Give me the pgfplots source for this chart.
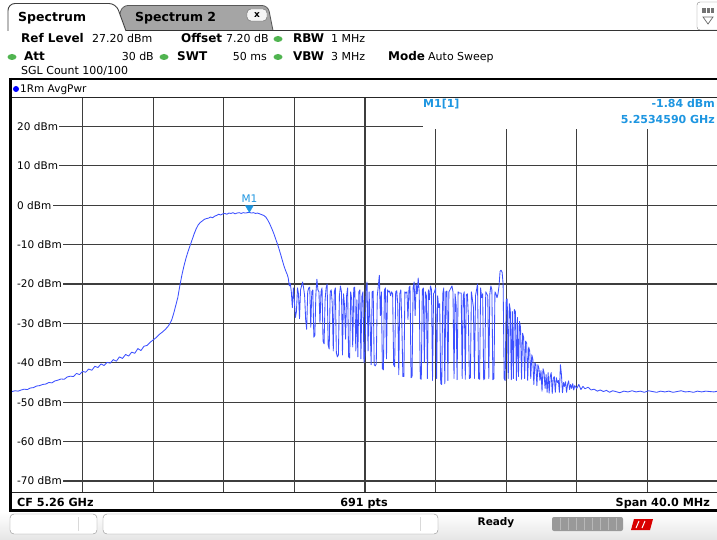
\documentclass[border=0pt]{standalone}
\usepackage{pgfplots}
\pgfplotsset{compat=1.18}
\usepackage{fontspec}
\setmainfont{DejaVu Sans}
\definecolor{trace}{RGB}{60,80,255}
\definecolor{mk}{RGB}{30,150,225}
\definecolor{gridc}{RGB}{62,62,62}
\definecolor{dotg}{RGB}{80,180,80}
\definecolor{tabg}{RGB}{165,165,165}
\tikzset{
 hb/.style={anchor=base west, inner sep=0pt, font=\fontsize{12}{14}\selectfont\bfseries},
 hr/.style={anchor=base west, inner sep=0pt, font=\fontsize{11}{14}\selectfont},
 fb/.style={anchor=base west, inner sep=0pt, font=\fontsize{11.2}{14}\selectfont\bfseries},
 ylab/.style={anchor=west, fill=white, inner xsep=0pt, inner ysep=1.5pt, font=\fontsize{10.5}{12}\selectfont},
}
\begin{document}
\begin{tikzpicture}
\useasboundingbox (0,0) rectangle (717pt,-540pt);
\fill[white] (0,0) rectangle (717pt,-540pt);
\begin{scope}[x=1pt,y=-1pt]
% tabs
\draw[fill=tabg, draw=black!65, line width=0.8pt, rounded corners=6pt] (116,30.5) -- (122,5.5) -- (268,5.5) -- (273,30.5);
\draw[fill=white!92!gray, draw=black!60, rounded corners=4pt] (247,9) rectangle (267,21);
\node[font=\fontsize{9}{10}\selectfont\bfseries, inner sep=0] at (257,15) {x};
\draw[fill=white, draw=black!75, line width=0.9pt, rounded corners=7pt] (8,31) -- (8,3.5) -- (116,3.5) -- (126,31);
\draw[black!80, line width=1.2pt] (125.5,30.5) -- (717,30.5);
\node[hb, font=\fontsize{12.5}{15}\selectfont\bfseries] at (18,22) {Spectrum};
\node[hb, font=\fontsize{12.5}{15}\selectfont\bfseries] at (135,22) {Spectrum 2};
% right icon
\draw[fill=white, draw=black!50, rounded corners=3pt] (697,2) rectangle (720,30);
\fill[black!55] (702,8) rectangle (714,13);
\draw[white, line width=0.6pt] (706,8) -- (706,13) (710,8) -- (710,13);
\draw[black!60, line width=0.7pt] (703,17) -- (713,17) -- (708,24) -- cycle;
% header rows
\node[hb] at (21,43) {Ref Level};
\node[hr] at (92,43) {27.20 dBm};
\node[hb] at (181,43) {Offset};
\node[hr] at (226,43) {7.20 dB};
\fill[dotg] (278,39) ellipse (4.5 and 3);
\node[hb] at (293,43) {RBW};
\node[hr] at (331,43) {1 MHz};
\fill[dotg] (12,57) ellipse (4.5 and 3);
\node[hb] at (24,61) {Att};
\node[hr, anchor=base east] at (154,61) {30 dB};
\fill[dotg] (164,57) ellipse (4.5 and 3);
\node[hb] at (177,61) {SWT};
\node[hr, anchor=base east] at (267,61) {50 ms};
\fill[dotg] (278,57) ellipse (4.5 and 3);
\node[hb] at (293,61) {VBW};
\node[hr] at (331,61) {3 MHz};
\node[hb] at (388,61) {Mode};
\node[hr] at (428,61) {Auto Sweep};
\node[hr] at (21,75) {SGL Count 100/100};
% separators
\draw[black, line width=2pt] (9.5,79) -- (717,79);
\fill[blue] (16,89) circle (3);
\node[hr, font=\fontsize{10.5}{12}\selectfont] at (20,93) {1Rm AvgPwr};
\draw[black!85, line width=0.8pt] (11,97.5) -- (717,97.5);
% footer
\draw[black!85, line width=0.8pt] (11,492.5) -- (717,492.5);
\node[fb] at (17,506) {CF 5.26 GHz};
\node[fb, anchor=base] at (364,506) {691 pts};
\node[fb, anchor=base east] at (710,506) {Span 40.0 MHz};
% status bar
\shade[top color=white, bottom color=black!10] (0,512) rectangle (717,540);
\draw[fill=white, draw=black!45, rounded corners=4pt] (10,514) rectangle (97,534);
\draw[black!15] (78,517) -- (78,531);
\draw[fill=white, draw=black!45, rounded corners=4pt] (103,514) rectangle (438,534);
\draw[black!15] (420,517) -- (420,531);
\node[font=\fontsize{10.5}{12}\selectfont\bfseries, inner sep=0] at (496,523) {Ready};
\fill[black!40, rounded corners=2pt] (552,517) rectangle (623,531);
\foreach \i in {560,568,...,616} \draw[black!28] (\i,518) -- (\i,530);
\fill[red!85!black] (634,519) -- (653,519) -- (650,530) -- (631,530) -- cycle;
\draw[white, line width=1pt] (639,521) -- (636,528) (645,521) -- (642,528);
\draw[black, line width=3pt] (9,510) -- (717,510);
\draw[black, line width=2.5pt] (10.5,78) -- (10.5,511.5);
\end{scope}

\begin{axis}[at={(12pt,-492pt)}, anchor=south west, width=706pt, height=394pt,
  scale only axis, xmin=0, xmax=690, ymin=-72.8, ymax=27.2,
  xtick={69,138,...,621}, ytick={-70,-60,...,20},
  xticklabels={}, yticklabels={}, major tick length=0pt,
  axis line style={draw=none}, grid=major,
  grid style={draw=gridc, line width=1.1pt}, clip=false]
\node[ylab] at (axis cs:0,20) {\hspace*{5pt}20 dBm\hspace*{1.5pt}};
\node[ylab] at (axis cs:0,10) {\hspace*{5pt}10 dBm\hspace*{1.5pt}};
\node[ylab] at (axis cs:0,0) {\hspace*{5pt}0 dBm\hspace*{1.5pt}};
\node[ylab] at (axis cs:0,-10) {\hspace*{5pt}-10 dBm\hspace*{1.5pt}};
\node[ylab] at (axis cs:0,-20) {\hspace*{5pt}-20 dBm\hspace*{1.5pt}};
\node[ylab] at (axis cs:0,-30) {\hspace*{5pt}-30 dBm\hspace*{1.5pt}};
\node[ylab] at (axis cs:0,-40) {\hspace*{5pt}-40 dBm\hspace*{1.5pt}};
\node[ylab] at (axis cs:0,-50) {\hspace*{5pt}-50 dBm\hspace*{1.5pt}};
\node[ylab] at (axis cs:0,-60) {\hspace*{5pt}-60 dBm\hspace*{1.5pt}};
\node[ylab] at (axis cs:0,-70) {\hspace*{5pt}-70 dBm\hspace*{1.5pt}};
\addplot[trace, line width=0.85pt, line join=round] coordinates {
(0,-47.3)(3,-47.1)(6,-47.2)(9,-46.9)(12,-46.7)(15,-46.8)(18,-46.4)(21,-46.3)(24,-45.9)(27,-45.8)
(30,-45.5)(33,-45.4)(36,-45.0)(39,-45.1)(42,-44.6)(45,-44.4)(48,-44.1)(51,-44.2)(54,-43.6)(57,-43.4)
(60,-43.5)(63,-42.7)(66,-43.0)(69,-42.2)(72,-42.4)(75,-41.6)(78,-41.9)(81,-40.9)(84,-41.2)(87,-40.3)
(90,-40.7)(93,-39.9)(96,-40.1)(99,-39.2)(102,-39.6)(105,-38.5)(108,-38.9)(111,-37.9)(114,-38.3)(117,-37.3)
(120,-37.6)(123,-36.4)(126,-36.9)(129,-35.8)(132,-35.6)(135,-34.8)(138,-34.2)(141,-33.6)(144,-32.8)(147,-32.2)
(150,-31.5)(153,-30.6)(156,-29.2)(158,-27.5)(160,-25.5)(162,-23.5)(164,-20.5)(166,-17.8)(168,-15.5)(170,-13.5)
(172,-11.8)(174,-10.3)(176,-8.8)(178,-7.3)(180,-6.0)(182,-5.0)(184,-4.4)(186,-4.0)(188,-3.6)(190,-3.4)
(192,-3.3)(194,-3.0)(196,-3.2)(198,-2.8)(200,-2.6)(202,-2.3)(204,-2.5)(206,-2.2)(208,-2.1)(210,-2.3)
(212,-2.0)(214,-2.1)(216,-1.9)(218,-2.2)(220,-2.0)(222,-1.9)(224,-2.1)(226,-1.9)(228,-2.0)(230,-1.9)
(232,-1.84)(234,-2.0)(236,-1.9)(238,-2.1)(240,-2.0)(242,-2.2)(244,-2.4)(246,-2.6)(248,-3.0)(250,-3.8)
(252,-4.8)(254,-6.0)(256,-7.3)(258,-8.8)(260,-10.3)(262,-12.0)(264,-13.8)(266,-15.6)(268,-17.0)(269,-17.6)
(270,-18.5)(271,-20.5)(272,-19.8)(273,-22)(274,-26)(275,-21)(276,-24.5)(277,-28.5)(278,-27)(279,-21)
(280,-22.5)(281,-28.8)(282,-21.5)(283,-20.5)(284,-19.5)(285,-21)(286,-23)(287,-29)(288,-31.5)(289,-22)
(290,-21)(291,-20.8)(292,-31)(293,-22)(294,-21.5)(295,-33.5)(296,-33)(297,-22.5)(298,-18.8)(299,-21.5)
(300,-22)(301,-30)(302,-22)(303,-21)(304,-34.5)(305,-35.2)(306,-24)(307,-21)(308,-20)(309,-35.5)
(310,-36.5)(311,-22)(312,-21.5)(313,-25)(314,-37)(315,-22)(316,-21)(317,-37.5)(318,-38.5)(319,-38)
(320,-23)(321,-20.5)(322,-22)(323,-38)(324,-22.5)(325,-25.5)(326,-34)(327,-23)(328,-21)(329,-38.5)
(330,-38.8)(331,-22)(332,-24)(333,-36)(334,-21)(335,-20.8)(336,-37)(337,-24)(338,-38.5)(339,-22)
(340,-21.5)(341,-39)(342,-23)(343,-22)(344,-40)(345,-38)(346,-21.5)(347,-19.5)(348,-37)(349,-22)
(350,-30)(351,-40.5)(352,-22)(353,-21.8)(354,-40.5)(355,-40.8)(356,-40.3)(357,-23)(358,-20.5)(359,-17.8)
(360,-28)(361,-22)(362,-41.5)(363,-41.8)(364,-21.5)(365,-21)(366,-39)(367,-21.5)(368,-22)(369,-21.8)
(370,-23)(371,-22)(372,-22.5)(373,-40.5)(374,-41)(375,-22)(376,-21.7)(377,-25)(378,-43)(379,-22.5)
(380,-21.5)(381,-30)(382,-43.5)(383,-43.5)(384,-22)(385,-22.3)(386,-22)(387,-29)(388,-21)(389,-20.5)
(390,-43.8)(391,-43.5)(392,-21)(393,-19.5)(394,-28)(395,-20)(396,-22.5)(397,-18.5)(398,-22)(399,-44)
(400,-44.2)(401,-21.5)(402,-21)(403,-40)(404,-22)(405,-23)(406,-44)(407,-21.5)(408,-24)(409,-20.5)
(410,-21.5)(411,-44.5)(412,-22.5)(413,-22)(414,-21)(415,-44)(416,-23)(417,-26)(418,-25)(419,-45.3)
(420,-45.5)(421,-22.5)(422,-21)(423,-45.3)(424,-22)(425,-21.8)(426,-44.5)(427,-22)(428,-21.5)(429,-21)
(430,-20.5)(431,-22)(432,-44)(433,-22.5)(434,-25)(435,-44.3)(436,-22)(437,-22.3)(438,-22.3)(439,-22.3)
(440,-44)(441,-23)(442,-22)(443,-44.2)(444,-22.8)(445,-22.5)(446,-28)(447,-44)(448,-43.8)(449,-22)
(450,-24)(451,-26)(452,-44)(453,-23)(454,-21.5)(455,-20)(456,-44)(457,-44.2)(458,-21)(459,-23.5)
(460,-22.5)(461,-44.3)(462,-44)(463,-22)(464,-22.5)(465,-23)(466,-44)(467,-22.5)(468,-20.5)(469,-21.5)
(470,-44.3)(471,-44)(472,-22)(473,-22.5)(474,-23.5)(475,-22.5)(476,-20.5)(477,-16.8)(478,-16.5)(479,-17)
(480,-20)(481,-44)(482,-44.5)(483,-24)(484,-23.8)(485,-44)(486,-25)(487,-26.5)(488,-44.3)(489,-27)
(490,-44)(491,-26.5)(492,-27)(493,-44.5)(494,-28.5)(495,-43.5)(496,-29.5)(497,-31)(498,-44.2)(499,-32.5)
(500,-33.5)(501,-44)(502,-34.5)(503,-35)(504,-44.5)(505,-36)(506,-37)(507,-44)(508,-38)(509,-39)
(510,-45.5)(511,-40)(512,-40.5)(513,-45.8)(514,-40.5)(515,-41.5)(516,-44.5)(517,-42)(518,-47.2)(519,-41.5)
(520,-42.5)(521,-46.5)(522,-43)(523,-47.5)(524,-42.5)(525,-47.7)(526,-43.5)(527,-42.5)(528,-47.8)(529,-44)
(530,-43.5)(531,-47.5)(532,-43.8)(533,-45)(534,-44.5)(535,-47.5)(536,-40.5)(537,-43)(538,-47.6)(539,-45)
(540,-46)(541,-44.8)(542,-47.5)(543,-45.5)(544,-44.6)(545,-46.8)(546,-45.5)(547,-46.5)(548,-45.3)(549,-46.9)
(550,-45.8)(552,-46.5)(554,-45.5)(556,-46.8)(558,-46.0)(560,-46.6)(563,-46.2)(566,-46.9)(569,-46.7)(572,-47.2)
(575,-46.9)(578,-47.3)(581,-47.0)(584,-47.5)(587,-47.1)(590,-47.3)(594,-47.6)(598,-47.2)(602,-47.4)(606,-47.1)
(610,-47.4)(614,-47.2)(618,-47.5)(622,-47.1)(626,-47.3)(630,-47.5)(634,-47.2)(638,-47.4)(642,-47.2)(646,-47.5)
(650,-47.3)(654,-47.1)(658,-47.4)(662,-47.3)(666,-47.5)(670,-47.2)(674,-47.4)(678,-47.2)(682,-47.3)(686,-47.4)
(690,-47.2)
};
\addplot[only marks, mark=triangle*, mark size=4.5pt, mark options={draw=mk, fill=mk, yshift=4.5pt, rotate=180}] coordinates {(232,-1.84)};
\node[text=mk, font=\fontsize{10.5}{12}\selectfont, yshift=14pt] at (axis cs:232,-1.84) {M1};
\end{axis}

\begin{scope}[x=1pt,y=-1pt]
\fill[white] (423,98.3) rectangle (717.5,129.5);
\node[hb, text=mk, font=\fontsize{11}{13}\selectfont\bfseries] at (423,108) {M1[1]};
\node[hb, anchor=base east, text=mk, font=\fontsize{11}{13}\selectfont\bfseries] at (715,108) {-1.84 dBm};
\node[hb, anchor=base east, text=mk, font=\fontsize{11}{13}\selectfont\bfseries] at (715,124) {5.2534590 GHz};
\end{scope}
\end{tikzpicture}
\end{document}
